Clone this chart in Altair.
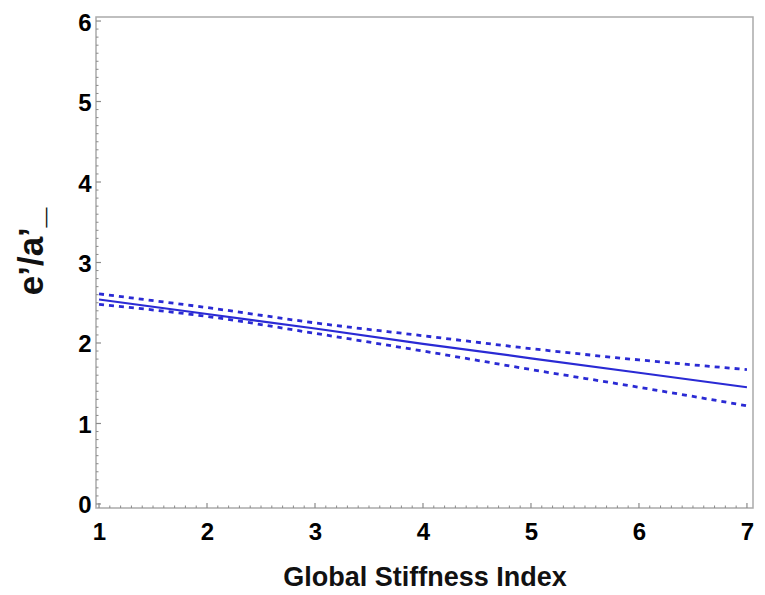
import altair as alt
import pandas as pd

# values
x_vals = [1, 2, 3, 4, 5, 6, 7]
fit_vals = [2.54, 2.36, 2.18, 1.99, 1.81, 1.63, 1.45]
upper_vals = [2.61, 2.44, 2.25, 2.09, 1.93, 1.79, 1.67]
lower_vals = [2.48, 2.33, 2.12, 1.90, 1.67, 1.45, 1.22]

x_major = [1, 2, 3, 4, 5, 6, 7]
y_major = [0, 1, 2, 3, 4, 5, 6]
x_minor = [round(1 + i * 0.1, 1) for i in range(61) if i % 10 != 0]
y_minor = [round(i * 0.1, 1) for i in range(61) if i % 10 != 0]

W, H = 657, 491
BLUE = "#2a2ad4"
FONT = "Liberation Sans"

xscale = alt.Scale(domain=[0.972, 7.056], nice=False, zero=False)
yscale = alt.Scale(domain=[-0.05, 6.05], nice=False, zero=False)

xaxis = alt.Axis(values=x_major, title="Global Stiffness Index",
                 ticks=False, domain=False, grid=False,
                 labelPadding=12, titlePadding=20, format="d",
                 titleFontSize=27)
yaxis = alt.Axis(values=y_major, title="e’/a’_",
                 ticks=False, domain=False, grid=False,
                 labelPadding=5, labelOffset=2, titlePadding=28, format="d",
                 titleFontSize=35, titleY=234)

fit_df = pd.DataFrame({"x": x_vals, "y": fit_vals})
band_df = pd.concat([
    pd.DataFrame({"x": x_vals, "y": upper_vals, "s": "upper"}),
    pd.DataFrame({"x": x_vals, "y": lower_vals, "s": "lower"}),
])

fit_line = alt.Chart(fit_df).mark_line(color=BLUE, strokeWidth=2.2).encode(
    x=alt.X("x:Q", scale=xscale, axis=xaxis),
    y=alt.Y("y:Q", scale=yscale, axis=yaxis),
)

band_lines = alt.Chart(band_df).mark_line(
    color=BLUE, strokeWidth=2.8, strokeDash=[5, 5], interpolate="monotone"
).encode(
    x=alt.X("x:Q", scale=xscale, axis=xaxis),
    y=alt.Y("y:Q", scale=yscale, axis=yaxis),
    detail="s:N",
)

tick_color = "#8a8a8a"

x_major_ticks = alt.Chart(pd.DataFrame({"x": x_major})).mark_rule(
    color=tick_color, strokeWidth=1.2).encode(
    x=alt.X("x:Q", scale=xscale, axis=xaxis),
    y=alt.value(H), y2=alt.value(H - 5))
x_minor_ticks = alt.Chart(pd.DataFrame({"x": x_minor})).mark_rule(
    color=tick_color, strokeWidth=1).encode(
    x=alt.X("x:Q", scale=xscale, axis=xaxis),
    y=alt.value(H), y2=alt.value(H - 2.5))
y_major_ticks = alt.Chart(pd.DataFrame({"y": y_major})).mark_rule(
    color=tick_color, strokeWidth=1.2).encode(
    y=alt.Y("y:Q", scale=yscale, axis=yaxis),
    x=alt.value(0), x2=alt.value(5))
y_minor_ticks = alt.Chart(pd.DataFrame({"y": y_minor})).mark_rule(
    color=tick_color, strokeWidth=1).encode(
    y=alt.Y("y:Q", scale=yscale, axis=yaxis),
    x=alt.value(0), x2=alt.value(2.5))

chart = alt.layer(
    fit_line, band_lines, x_major_ticks, x_minor_ticks, y_major_ticks, y_minor_ticks
).properties(
    width=W, height=H,
    padding={"left": 88, "top": 9, "right": 4, "bottom": 87},
    autosize=alt.AutoSizeParams(type="none"),
).configure_view(
    stroke="#aaaaaa", strokeWidth=1.5
).configure_axis(
    labelFont=FONT, titleFont=FONT,
    labelFontSize=24, labelFontWeight="bold", labelColor="#000000",
    titleFontWeight="bold", titleColor="#111111",
)

chart.save("out.html", embed_options={"renderer": "svg", "actions": False})
